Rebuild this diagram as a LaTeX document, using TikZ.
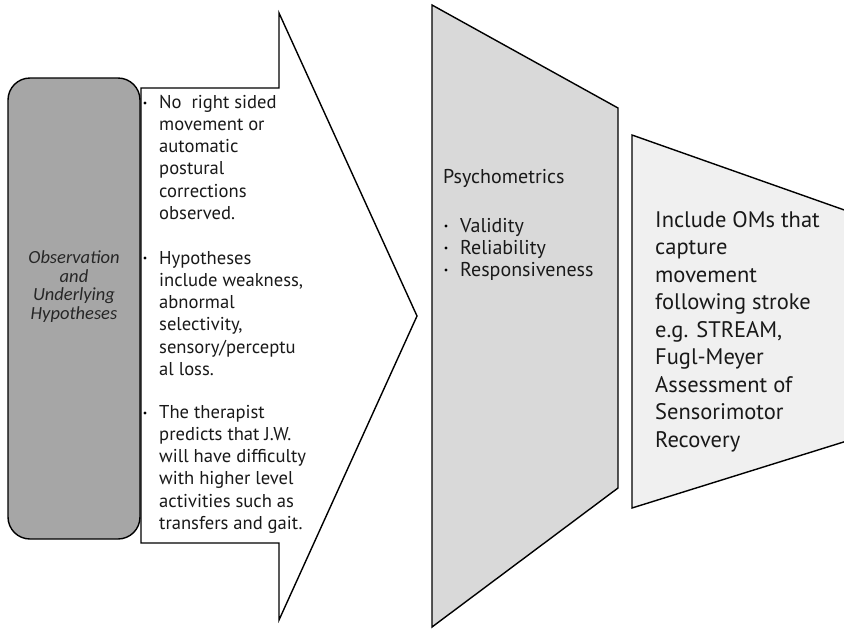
\documentclass[tikz,border=0pt]{standalone}
\usepackage{fontspec}
\setmainfont{PT Sans}
\newfontfamily\boxfont{Carlito}
\definecolor{boxgray}{HTML}{A6A6A6}
\definecolor{midgray}{HTML}{D9D9D9}
\definecolor{lightgray2}{HTML}{F0F0F0}
\begin{document}
\begin{tikzpicture}[x=1pt,y=-1pt,
  outline/.style={draw=black, line width=1.4pt, line join=miter},
  % nodes are anchored at the baseline of their LAST line
  armtext/.style={anchor=base west, inner sep=0pt, align=left, text=black!90, font=\fontsize{18.6}{22.3}\selectfont},
  psytext/.style={anchor=base west, inner sep=0pt, align=left, text=black!90, font=\fontsize{20}{22}\selectfont},
  omtext/.style={anchor=base west, inner sep=0pt, align=left, text=black!90, font=\fontsize{22.5}{27.5}\selectfont},
  dot/.style={circle, fill=black, inner sep=0pt, minimum size=3.4pt},
]
\useasboundingbox (0,0) rectangle (844,630);
\fill[white] (0,0) rectangle (844,630);

% big arrow
\draw[outline, fill=white] (141,88) -- (279,88) -- (279,13) -- (417,316) -- (279,620) -- (279,543) -- (141,543) -- cycle;

% rounded box
\draw[outline, fill=boxgray, rounded corners=22pt] (8,78) rectangle (140,539);
\node[inner sep=0pt, align=center, anchor=base, font=\boxfont\itshape\fontsize{18.5}{18.5}\selectfont, text=black!85] (obs) at (74,319)
  {Observation\\and\\Underlying\\Hypotheses};

% arrow text
\node[dot] (d1) at (145,103) {};
\node[armtext] (t1) at (159,219.5) {No\ \ right sided\\movement or\\automatic\\postural\\corrections\\observed.};
\node[dot] (d2) at (145,258) {};
\node[armtext] (t2) at (159,375.5) {Hypotheses\\include weakness,\\abnormal\\selectivity,\\sensory/perceptu\\al loss.};
\node[dot] (d3) at (145,413) {};
\node[armtext] (t3) at (159,529.5) {The therapist\\predicts that J.W.\\will have difficulty\\with higher level\\activities such as\\transfers and gait.};

% psychometrics trapezoid
\draw[outline, fill=midgray] (432,5) -- (618,108) -- (618,488) -- (432,627) -- cycle;
\node[psytext] (psy) at (443,183) {Psychometrics};
\node[dot] (p1) at (446,226) {};
\node[psytext] (v) at (460,232) {Validity};
\node[dot] (p2) at (446,248) {};
\node[psytext] (r) at (460,254) {Reliability};
\node[dot] (p3) at (446,270) {};
\node[psytext] (rs) at (460,276) {Responsiveness};

% outcome measures trapezoid
\draw[outline, fill=lightgray2] (632,135) -- (850,212) -- (850,440) -- (632,508) -- cycle;
\node[omtext] (om) at (655,447) {Include OMs that\\capture\\movement\\following stroke\\e.g. STREAM,\\Fugl-Meyer\\Assessment of\\Sensorimotor\\Recovery};
\end{tikzpicture}
\end{document}
